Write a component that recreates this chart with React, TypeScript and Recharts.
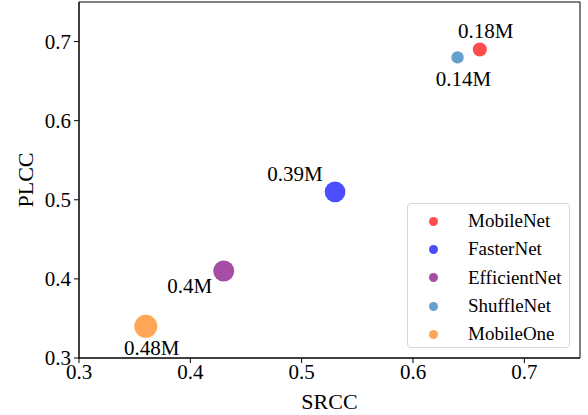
import { ScatterChart, Scatter, XAxis, YAxis, ReferenceArea } from "recharts"

const models = ["MobileNet", "FasterNet", "EfficientNet", "ShuffleNet", "MobileOne"]
const srcc = [0.66, 0.53, 0.43, 0.64, 0.36]
const plcc = [0.69, 0.51, 0.41, 0.68, 0.34]
const params = [0.18, 0.39, 0.4, 0.14, 0.48]
const paramLabels = ["0.18M", "0.39M", "0.4M", "0.14M", "0.48M"]
const xTicks = [0.3, 0.4, 0.5, 0.6, 0.7]
const yTicks = [0.3, 0.4, 0.5, 0.6, 0.7]

const colors = ["#ff4d4d", "#4d4dff", "#a64da6", "#63a0cb", "#ffa556"]
// label offset from the point centre, px
const labelOffsets = [
  [6, -18],
  [-40, -18],
  [-34, 15],
  [6, 22],
  [6, 22],
]

const font = "'Times New Roman', 'Liberation Serif', serif"

const series = models.map((name, i) => ({
  name,
  color: colors[i],
  data: [{ x: srcc[i], y: plcc[i], params: params[i], label: paramLabels[i], idx: i }],
}))

function Dot(props: any) {
  const { cx, cy, payload, fill } = props
  const r = 16.6 * Math.sqrt(payload.params)
  const [dx, dy] = labelOffsets[payload.idx]
  return (
    <g>
      <circle cx={cx} cy={cy} r={r} fill={fill} />
      <text
        x={cx + dx}
        y={cy + dy}
        textAnchor="middle"
        dominantBaseline="central"
        style={{ fontFamily: font, fontSize: 21 }}
        fill="#000"
      >
        {payload.label}
      </text>
    </g>
  )
}

function LegendBox() {
  return (
    <div
      style={{
        position: "absolute",
        left: 407,
        top: 203,
        border: "1px solid #d8d8d8",
        borderRadius: 4,
        background: "#fff",
        width: 163,
        height: 145,
        boxSizing: "border-box",
        padding: "3px 0 0 0",
        fontFamily: font,
        fontSize: 19,
      }}
    >
      {models.map((m, i) => (
        <div key={m} style={{ display: "flex", alignItems: "center", height: 28.3 }}>
          <span
            style={{
              display: "inline-block",
              width: 9,
              height: 9,
              borderRadius: "50%",
              background: colors[i],
              marginLeft: 21,
              marginRight: 30,
            }}
          />
          <span style={{ color: "#000" }}>{m}</span>
        </div>
      ))}
    </div>
  )
}

const tickStyle = { fill: "#000", fontSize: 21, style: { fontFamily: font } }

export default function App() {
  return (
    <div style={{ position: "absolute", left: 0, top: 0, width: 588, height: 415, background: "#fff", fontFamily: font }}>
      <ScatterChart width={588} height={415} margin={{ top: 2, right: 8, bottom: 0, left: 0 }} style={{ fontFamily: font }}>
        <XAxis
          type="number"
          dataKey="x"
          domain={[0.3, 0.75]}
          ticks={xTicks}
          allowDataOverflow
          height={57}
          tickSize={5}
          tickMargin={1}
          stroke="#000"
          tick={tickStyle}
          tickFormatter={(v) => `${v}`}
          label={{ value: "SRCC", position: "insideBottom", offset: 6, fill: "#000", fontSize: 22 }}
        />
        <YAxis
          type="number"
          dataKey="y"
          domain={[0.3, 0.75]}
          ticks={yTicks}
          allowDataOverflow
          width={79}
          tickSize={5}
          tickMargin={3}
          stroke="#000"
          tick={tickStyle}
          tickFormatter={(v) => `${v}`}
          label={{ value: "PLCC", angle: -90, position: "center", dx: -14, fill: "#000", fontSize: 22 }}
        />
        <ReferenceArea x1={0.3} x2={0.75} y1={0.3} y2={0.75} fill="none" stroke="#000" strokeWidth={1} />
        {series.map((s) => (
          <Scatter
            key={s.name}
            name={s.name}
            data={s.data}
            fill={s.color}
            shape={<Dot />}
            isAnimationActive={false}
          />
        ))}
      </ScatterChart>
      <LegendBox />
    </div>
  )
}
